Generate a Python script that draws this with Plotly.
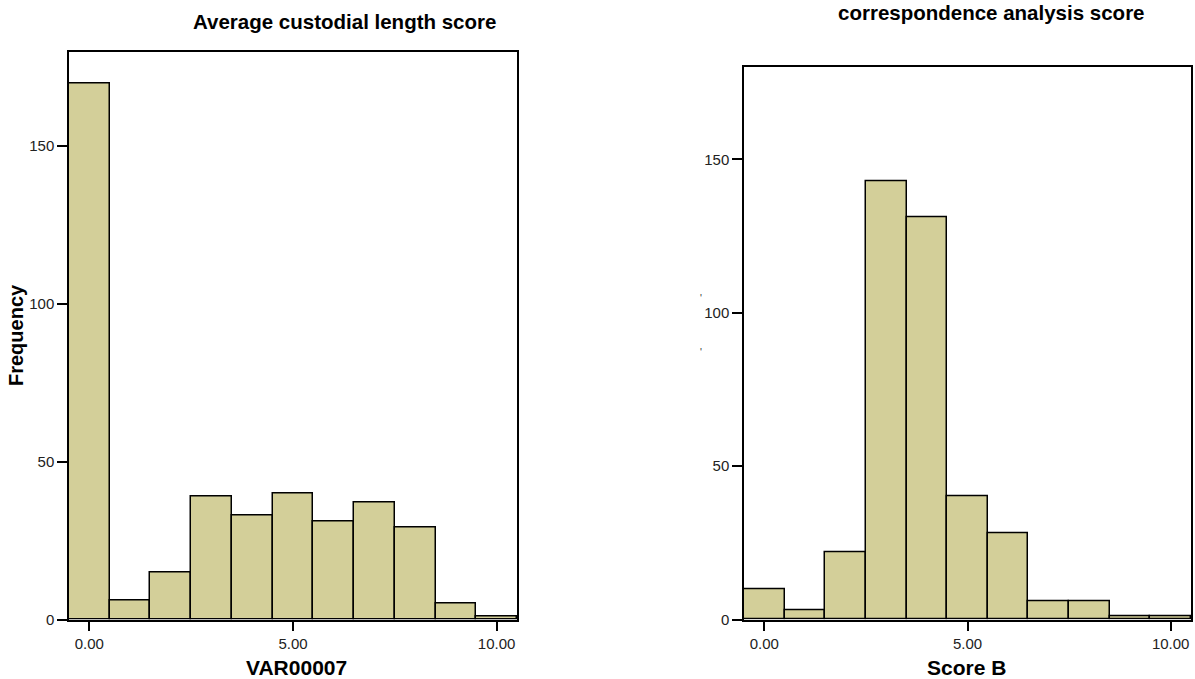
import plotly.graph_objects as go

# Data
bins = [0, 1, 2, 3, 4, 5, 6, 7, 8, 9, 10]
freq_var00007 = [170, 6, 15, 39, 33, 40, 31, 37, 29, 5, 1]
freq_score_b = [10, 3, 22, 143, 131, 40, 28, 6, 6, 1, 1]
tick_vals = [0, 5, 10]
tick_text = ["0.00", "5.00", "10.00"]
y_ticks = [0, 50, 100, 150]

W, H = 1195, 679
FONT = "Liberation Sans, Arial, sans-serif"
BAR = "#D3CF99"

def px_x(p):
    return p / W

def px_y(p):
    return 1 - p / H

fig = go.Figure()
fig.add_trace(go.Bar(x=bins, y=freq_var00007, width=1, marker=dict(color=BAR, line=dict(color="black", width=1.5)),
                     xaxis="x", yaxis="y", showlegend=False))
fig.add_trace(go.Bar(x=bins, y=freq_score_b, width=1, marker=dict(color=BAR, line=dict(color="black", width=1.5)),
                     xaxis="x2", yaxis="y2", showlegend=False))

axis_common = dict(showline=True, mirror=True, linecolor="black", linewidth=1.5, showgrid=False, zeroline=False,
                   ticks="outside", ticklen=10, tickwidth=1.5, tickcolor="black", automargin=False,
                   tickfont=dict(family=FONT, size=15, color="#222"))

fig.update_layout(
    width=W, height=H,
    margin=dict(l=0, r=0, t=0, b=0),
    paper_bgcolor="white", plot_bgcolor="white",
    bargap=0,
    xaxis=dict(domain=[px_x(69), px_x(517)], range=[-0.5, 10.5], tickvals=tick_vals, ticktext=tick_text,
               anchor="y", **axis_common),
    yaxis=dict(domain=[px_y(619.5), px_y(51.5)], range=[0, 180], tickvals=y_ticks, anchor="x", **axis_common),
    xaxis2=dict(domain=[px_x(744), px_x(1191)], range=[-0.5, 10.5], tickvals=tick_vals, ticktext=tick_text,
                anchor="y2", **axis_common),
    yaxis2=dict(domain=[px_y(619.5), px_y(67.3)], range=[0, 180], tickvals=y_ticks, anchor="x2", **axis_common),
)

def ann(text, x, y, size=20, bold=True, angle=0, color="black"):
    fig.add_annotation(text=f"<b>{text}</b>" if bold else text, x=px_x(x), y=px_y(y), xref="paper", yref="paper",
                       showarrow=False, xanchor="center", yanchor="middle", textangle=angle,
                       font=dict(family=FONT, size=size, color=color))

ann("Average custodial length score", 344, 22, size=20.5)
ann("correspondence analysis score", 991, 12, size=20.5)
ann("VAR00007", 296, 667, size=21)
ann("Score B", 966, 667, size=21)
ann("Frequency", 16, 335, angle=-90)
ann("'", 701, 298, size=10, bold=False, color="#333")
ann("'", 701, 352, size=10, bold=False, color="#333")

fig.write_html("out.html")
